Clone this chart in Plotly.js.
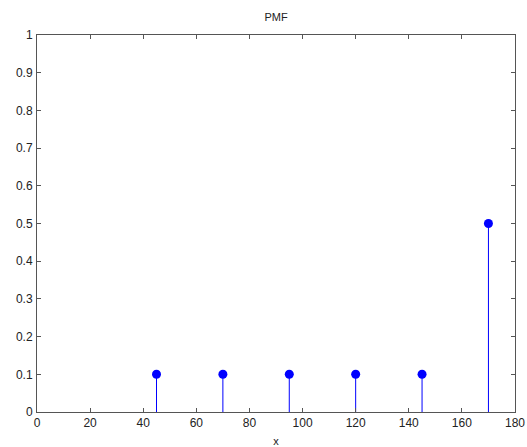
<!DOCTYPE html>
<html>
<head>
<meta charset="utf-8">
<script src="https://cdn.plot.ly/plotly-3.0.1.min.js"></script>
<style>html,body{margin:0;padding:0;background:#fff;}#chart{width:527px;height:447px;}</style>
</head>
<body>
<div id="chart"></div>
<script>
var xValues = [45, 70, 95, 120, 145, 170];
var pmfValues = [0.1, 0.1, 0.1, 0.1, 0.1, 0.5];
var xTicks = [0, 20, 40, 60, 80, 100, 120, 140, 160, 180];
var yTicks = [0, 0.1, 0.2, 0.3, 0.4, 0.5, 0.6, 0.7, 0.8, 0.9, 1];

var trace = {
  x: xValues,
  y: pmfValues,
  type: 'scatter',
  mode: 'markers',
  marker: {color: '#0000ff', size: 9, symbol: 'circle'},
  error_y: {
    type: 'data',
    symmetric: false,
    array: pmfValues.map(function(){return 0;}),
    arrayminus: pmfValues,
    color: '#0000ff',
    thickness: 1,
    width: 0
  },
  hoverinfo: 'x+y'
};

var fontFam = 'Liberation Sans, Arial, sans-serif';
var axisCommon = {
  showline: true,
  linecolor: '#555',
  linewidth: 1,
  mirror: 'ticks',
  ticks: 'inside',
  ticklen: 4,
  tickcolor: '#555',
  showgrid: false,
  zeroline: false,
  tickfont: {family: fontFam, size: 12, color: '#222'}
};

var layout = {
  width: 527,
  height: 447,
  margin: {l: 37, r: 12, t: 35, b: 35},
  paper_bgcolor: '#fff',
  plot_bgcolor: '#fff',
  showlegend: false,
  title: {text: 'PMF', font: {family: fontFam, size: 11, color: '#222'}, x: 0.5, xanchor: 'center', y: 0.962, yanchor: 'middle', xref: 'paper'},
  xaxis: Object.assign({}, axisCommon, {
    range: [0, 180],
    tickvals: xTicks,
    ticktext: xTicks.map(String),
    title: {text: 'x', font: {family: fontFam, size: 11, color: '#222'}, standoff: 12}
  }),
  yaxis: Object.assign({}, axisCommon, {
    range: [0, 1],
    tickvals: yTicks,
    ticktext: yTicks.map(String),
    ticklabelstandoff: 1
  })
};

Plotly.newPlot('chart', [trace], layout, {displayModeBar: false, staticPlot: true});
</script>
</body>
</html>
